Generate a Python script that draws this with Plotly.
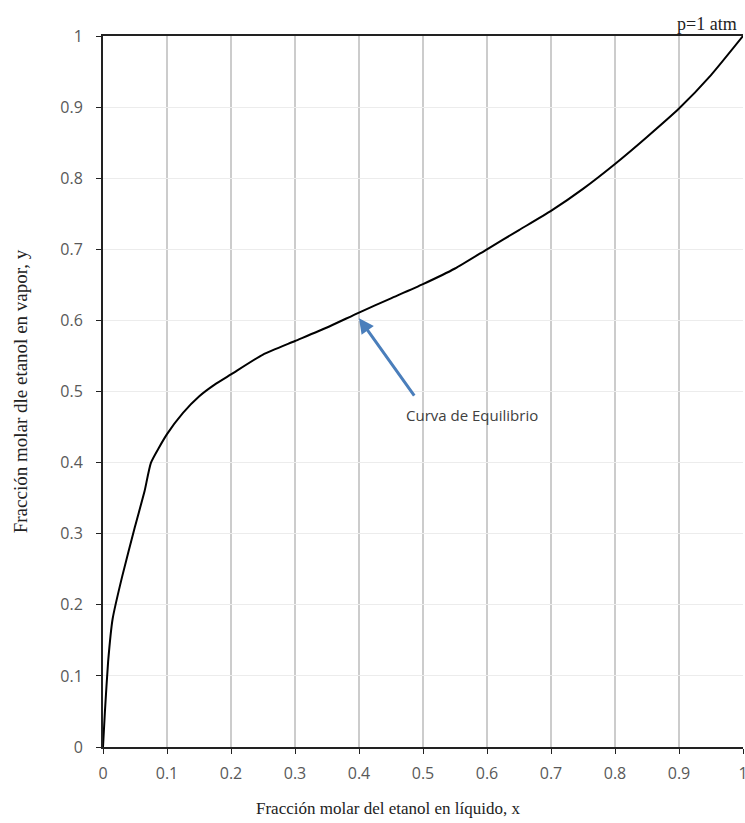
import plotly.graph_objects as go

x_liq = [0, 0.003, 0.008, 0.015, 0.03, 0.05, 0.065, 0.075, 0.1, 0.125, 0.15, 0.175, 0.2,
         0.25, 0.3, 0.35, 0.4, 0.45, 0.5, 0.55, 0.6, 0.65, 0.7, 0.75, 0.8, 0.85, 0.9, 0.95, 1.0]
y_vap = [0, 0.05, 0.12, 0.18, 0.24, 0.31, 0.36, 0.40, 0.44, 0.47, 0.493, 0.51, 0.524,
         0.552, 0.571, 0.59, 0.611, 0.631, 0.651, 0.673, 0.70, 0.727, 0.754, 0.785, 0.82,
         0.858, 0.898, 0.945, 1.0]

x_ticks = [0, 0.1, 0.2, 0.3, 0.4, 0.5, 0.6, 0.7, 0.8, 0.9, 1]
x_tick_text = ["0", "0.1", "0.2", "0.3", "0.4", "0.5", "0.6", "0.7", "0.8", "0.9", "1"]
y_ticks = [0, 0.1, 0.2, 0.3, 0.4, 0.5, 0.6, 0.7, 0.8, 0.9, 1]
y_tick_text = ["0", "0.1", "0.2", "0.3", "0.4", "0.5", "0.6", "0.7", "0.8", "0.9", "1"]

x_title = "Fracción molar del etanol en líquido, x"
y_title = "Fracción molar dle etanol en vapor, y"
label_text = "Curva de Equilibrio"
label_pos = (0.577, 0.467)
arrow_head = (0.40, 0.603)
arrow_tail = (0.488, 0.492)

fig = go.Figure()
fig.add_trace(go.Scatter(x=x_liq, y=y_vap, mode="lines",
                         line=dict(color="black", width=2, shape="spline", smoothing=0.5),
                         showlegend=False, hoverinfo="skip"))

serif = "Liberation Serif, Times New Roman, serif"
sans = "Open Sans, sans-serif"

fig.update_layout(
    width=745, height=823,
    margin=dict(l=103, r=2, t=36, b=76),
    paper_bgcolor="white", plot_bgcolor="white",
    xaxis=dict(range=[0, 1], tickvals=x_ticks, ticktext=x_tick_text, automargin=False,
               showgrid=True, gridcolor="#cccccc", gridwidth=1.5,
               showline=True, linecolor="#222", linewidth=2, mirror=True,
               ticks="outside", ticklen=5, tickcolor="#222", tickwidth=1,
               ticklabelstandoff=6, ticklabeloverflow="allow",
               tickfont=dict(family=sans, size=16, color="#595959"),
               zeroline=False),
    yaxis=dict(range=[0, 1], tickvals=y_ticks, ticktext=y_tick_text, automargin=False,
               showgrid=True, gridcolor="#ececec", gridwidth=1,
               showline=True, linecolor="#222", linewidth=2,
               ticks="outside", ticklen=5, tickcolor="#222", tickwidth=1,
               ticklabelstandoff=10,
               tickfont=dict(family=sans, size=16, color="#595959"),
               zeroline=False,
               title=dict(text=y_title,
                          font=dict(family=serif, size=19, color="#222"), standoff=28)),
)

fig.add_annotation(x=0.445, y=-0.086, xref="paper", yref="paper", text=x_title,
                   showarrow=False, xanchor="center", yanchor="middle",
                   font=dict(family=serif, size=17, color="#222"))
fig.add_annotation(x=arrow_head[0], y=arrow_head[1], ax=arrow_tail[0], ay=arrow_tail[1],
                   xref="x", yref="y", axref="x", ayref="y", text="",
                   showarrow=True, arrowhead=2, arrowsize=1, arrowwidth=3,
                   arrowcolor="#4a7ebb")
fig.add_annotation(x=label_pos[0], y=label_pos[1], xref="x", yref="y", text=label_text,
                   showarrow=False, font=dict(family=sans, size=15, color="#404040"))
fig.add_annotation(x=1, y=1, xref="paper", yref="paper", xanchor="right", yanchor="bottom",
                   text="p=1 atm", showarrow=False, yshift=0, xshift=-4,
                   font=dict(family=serif, size=18, color="#222"))

fig.write_html("out.html", config={"displayModeBar": False},
               post_script="document.body.style.margin='0';document.body.style.overflow='hidden';")
